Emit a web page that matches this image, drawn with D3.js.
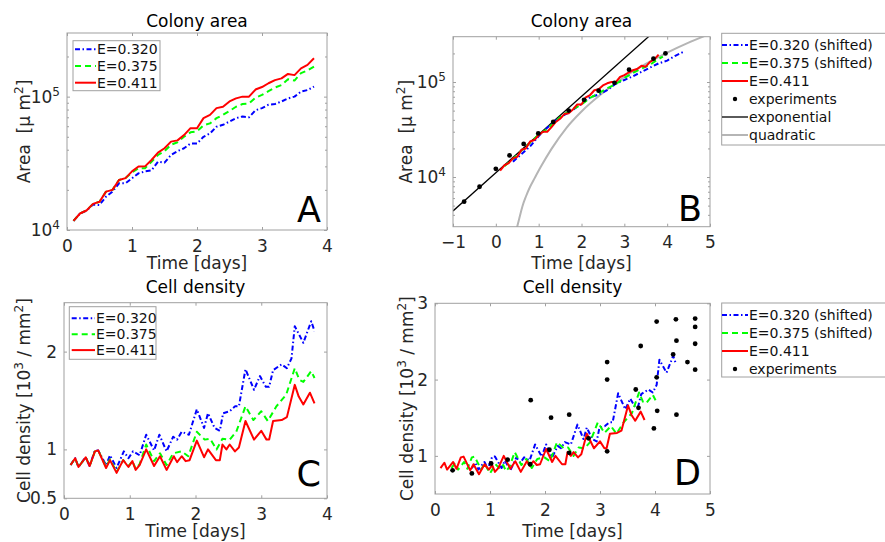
<!DOCTYPE html>
<html>
<head>
<meta charset="utf-8">
<script src="https://cdn.jsdelivr.net/npm/d3@7"></script>
<style>
body { margin: 0; background: #fff; }
svg { font-family: "DejaVu Sans", sans-serif; }
</style>
</head>
<body>
<svg id="fig" width="885" height="542"></svg>
<script>
// ---- colony area, um^2 (panel A, red also in B) ----
const tArea = [0.1,0.2,0.3,0.4,0.5,0.6,0.7,0.8,0.9,1.0,1.1,1.2,1.3,1.4,1.5,1.6,1.7,1.8,1.9,2.0,
               2.1,2.2,2.3,2.4,2.5,2.6,2.7,2.8,2.9,3.0,3.1,3.2,3.3,3.4,3.5,3.6,3.7,3.8];
const areaRed = [1.17e4,1.33e4,1.40e4,1.57e4,1.63e4,1.94e4,2.0e4,2.37e4,2.45e4,2.75e4,2.99e4,3.0e4,3.35e4,3.8e4,4.1e4,4.6e4,4.7e4,5.15e4,5.8e4,5.8e4,
                 6.9e4,7.3e4,8.2e4,8.4e4,9.2e4,9.7e4,1.0e5,1.0e5,1.13e5,1.18e5,1.26e5,1.33e5,1.37e5,1.48e5,1.45e5,1.63e5,1.73e5,1.94e5];
const areaGreen = [1.17e4,1.33e4,1.40e4,1.57e4,1.63e4,1.94e4,2.0e4,2.37e4,2.45e4,2.7e4,2.9e4,2.9e4,3.25e4,3.65e4,3.9e4,4.35e4,4.55e4,5.0e4,5.4e4,5.5e4,
                   6.1e4,6.3e4,6.9e4,7.3e4,7.8e4,8.4e4,8.8e4,8.9e4,9.8e4,1.03e5,1.1e5,1.17e5,1.22e5,1.35e5,1.32e5,1.5e5,1.57e5,1.68e5];
const areaBlue = [1.17e4,1.33e4,1.40e4,1.55e4,1.54e4,1.78e4,1.94e4,2.24e4,2.24e4,2.44e4,2.66e4,2.75e4,2.8e4,3.25e4,3.2e4,3.65e4,3.9e4,4.1e4,4.45e4,4.45e4,
                  5.0e4,5.3e4,5.95e4,6.15e4,6.5e4,6.9e4,7.1e4,7.0e4,7.9e4,8.2e4,8.7e4,8.8e4,9.2e4,9.7e4,1.0e5,1.09e5,1.12e5,1.19e5];

// shifted curves in panel B
const tBlueB = [0.4,0.6,0.8,1.0,1.2,1.4,1.6,1.8,2.0,2.2,2.4,2.6,2.8,3.0,3.2,3.4,3.6,3.8,4.0,4.2,4.4];
const areaBlueB = [1.45e4,1.75e4,2.1e4,2.7e4,3.3e4,3.95e4,4.5e4,5.1e4,5.9e4,6.9e4,7.4e4,8.2e4,9.6e4,1.05e5,1.15e5,1.28e5,1.42e5,1.57e5,1.68e5,1.9e5,2.1e5];
const tGreenB = [0.2,0.4,0.6,0.8,1.0,1.2,1.4,1.6,1.8,2.0,2.2,2.4,2.6,2.8,3.0,3.2,3.4,3.6,3.8,3.9];
const areaGreenB = [1.3e4,1.55e4,1.9e4,2.3e4,2.8e4,3.2e4,3.9e4,4.6e4,5.2e4,5.8e4,6.8e4,7.6e4,8.6e4,9.5e4,1.1e5,1.25e5,1.38e5,1.52e5,1.75e5,1.85e5];

// experiments and fits in panel B
const expAreaT = [-0.74,-0.38,0.0,0.32,0.65,0.99,1.34,1.70,2.06,2.40,2.77,3.11,3.68,3.96];
const expAreaV = [5.5e3,7.9e3,1.22e4,1.69e4,2.23e4,2.88e4,3.8e4,5.0e4,6.5e4,8.1e4,9.8e4,1.35e5,1.76e5,2.0e5];
const expFitT = [-1, 3.6];
const expFitV = [4.4e3, 3.1e5];
const quadT = [0.49,0.55,0.62,0.7,0.8,0.91,1.05,1.3,1.65,2.0,2.5,3.0,3.5,4.0,4.5,5.0];
const quadV = [2.9e3,3.7e3,4.9e3,6.2e3,7.9e3,9.8e3,1.28e4,1.98e4,3.3e4,4.9e4,7.7e4,1.13e5,1.55e5,2.04e5,2.6e5,3.22e5];

// ---- cell density, 10^3 / mm^2 (panel C, shifted in D) ----
const tDensRed = [0.10,0.17,0.22,0.33,0.39,0.47,0.52,0.64,0.70,0.80,0.90,0.98,1.04,1.09,1.15,1.25,1.37,1.46,1.56,1.67,
                  1.72,1.79,1.85,1.91,2.02,2.13,2.19,2.31,2.37,2.41,2.47,2.52,2.60,2.66,2.76,2.89,3.00,3.08,3.12,3.18,
                  3.31,3.39,3.51,3.57,3.64,3.74,3.81];
const densRed = [0.84,0.91,0.82,0.92,0.83,0.98,0.99,0.81,0.89,0.76,0.89,0.82,0.88,0.79,0.84,1.00,0.83,0.93,0.79,0.93,
                 0.87,0.93,0.88,0.89,1.09,0.92,1.00,0.89,0.89,1.05,1.00,1.05,0.98,1.02,1.29,1.10,1.19,1.10,1.10,1.29,
                 1.30,1.33,1.66,1.54,1.46,1.58,1.47];
const tDensGreen = [0.10,0.17,0.22,0.33,0.39,0.47,0.52,0.64,0.70,0.80,0.90,0.98,1.04,1.09,1.15,
                    1.25,1.37,1.46,1.56,1.66,1.79,1.89,2.02,2.14,2.22,2.32,2.41,2.52,2.62,2.76,2.88,3.00,3.10,3.23,3.38,
                    3.51,3.58,3.64,3.76,3.81];
const densGreen = [0.84,0.91,0.82,0.92,0.83,0.98,0.99,0.82,0.90,0.77,0.89,0.83,0.88,0.80,0.85,
                   1.05,0.88,0.96,0.84,0.96,0.98,0.93,1.18,1.10,1.11,1.00,1.11,1.10,1.18,1.44,1.30,1.39,1.29,1.44,1.56,
                   1.83,1.71,1.69,1.80,1.73];
const tDensBlue = [0.10,0.17,0.22,0.33,0.39,0.47,0.52,0.64,0.70,0.80,0.91,0.98,1.05,1.15,1.25,1.37,1.45,1.56,1.66,1.72,
                   1.79,1.90,2.02,2.13,2.19,2.29,2.37,2.42,2.52,2.60,2.66,2.76,2.89,2.98,3.07,3.12,3.18,3.31,3.39,3.46,
                   3.51,3.64,3.76,3.81];
const densBlue = [0.84,0.91,0.82,0.92,0.83,0.99,0.99,0.84,0.94,0.81,0.98,0.91,0.98,0.94,1.15,0.99,1.15,0.98,1.13,1.10,
                  1.18,1.15,1.41,1.22,1.37,1.22,1.19,1.37,1.39,1.44,1.44,1.82,1.61,1.75,1.64,1.64,1.81,1.87,1.83,1.93,
                  2.26,2.09,2.31,2.21];
const shiftBlue = 0.57;   // days, panel D
const shiftGreen = 0.2;

const expDensT = [0.32,0.67,1.02,1.32,1.73,1.74,2.11,2.08,2.44,2.44,2.79,3.13,3.13,3.13,3.65,3.70,3.74,3.98,
                  4.03,4.03,4.04,4.33,4.38,4.39,4.39,4.59,4.73,4.73,4.73,4.73];
const expDensV = [0.81,0.77,0.90,0.95,0.89,1.73,1.50,1.08,1.54,1.04,1.23,2.23,2.00,1.06,1.87,1.63,2.44,1.36,
                  2.03,2.76,1.59,2.33,2.79,2.51,1.54,2.23,2.80,2.69,2.47,2.13];

// ---- ticks ----
const ticksX4 = [0,1,2,3,4];
const ticksX5 = [0,1,2,3,4,5];
const ticksXB = [-1,0,1,2,3,4,5];
const ticksLog = [1e4, 1e5];
const minorA = [2e4,3e4,4e4,5e4,6e4,7e4,8e4,9e4,2e5];
const minorB = [4e3,5e3,6e3,7e3,8e3,9e3,2e4,3e4,4e4,5e4,6e4,7e4,8e4,9e4,2e5];
const ticksC = [0.5,1,2];
const ticksD = [1,2,3];

const svg = d3.select("#fig");
const AXIS = "#a0a0a0", TXT = "#262626";
const BLUE = { color: "#0000ff", dash: "5,2.5,1.5,2.5" };
const GREEN = { color: "#00ff00", dash: "6,4" };
const RED = { color: "#ff0000", dash: null };

function styleAxis(sel) {
    sel.select(".domain").remove();
    sel.attr("font-family", null).attr("font-size", 17);
    sel.selectAll(".tick line").attr("stroke", AXIS);
    sel.selectAll(".tick text").attr("fill", TXT);
}

function logLabels(sel) {
    sel.selectAll(".tick text").each(function(d) {
        const t = d3.select(this);
        t.append("tspan").text("10");
        t.append("tspan").attr("dy", -7).attr("font-size", 12).text(Math.round(Math.log10(d)));
    });
}

function makePanel(p) {
    const g = svg.append("g");
    const x = d3.scaleLinear().domain(p.xDomain).range([p.left, p.right]);
    const y = (p.log ? d3.scaleLog() : d3.scaleLinear()).domain(p.yDomain).range([p.bottom, p.top]);

    svg.append("clipPath").attr("id", "clip" + p.id).append("rect")
        .attr("x", p.left).attr("y", p.top)
        .attr("width", p.right - p.left).attr("height", p.bottom - p.top);

    const fmtY = p.log ? () => "" : d3.format("");

    g.append("g").attr("transform", `translate(0,${p.bottom})`)
        .call(d3.axisBottom(x).tickValues(p.xTicks).tickSize(-3).tickPadding(9.5).tickFormat(d3.format("")))
        .call(styleAxis);
    g.append("g").attr("transform", `translate(0,${p.top})`)
        .call(d3.axisTop(x).tickValues(p.xTicks).tickSize(-3).tickFormat(""))
        .call(styleAxis);
    const yl = g.append("g").attr("transform", `translate(${p.left},0)`)
        .call(d3.axisLeft(y).tickValues(p.yTicks).tickSize(-3).tickPadding(7).tickFormat(fmtY))
        .call(styleAxis);
    if (p.log) yl.call(logLabels);
    g.append("g").attr("transform", `translate(${p.right},0)`)
        .call(d3.axisRight(y).tickValues(p.yTicks).tickSize(-3).tickFormat(""))
        .call(styleAxis);
    if (p.minor) {
        g.append("g").attr("transform", `translate(${p.left},0)`)
            .call(d3.axisLeft(y).tickValues(p.minor).tickSize(-2).tickFormat("")).call(styleAxis);
        g.append("g").attr("transform", `translate(${p.right},0)`)
            .call(d3.axisRight(y).tickValues(p.minor).tickSize(-2).tickFormat("")).call(styleAxis);
    }

    const plot = g.append("g").attr("clip-path", `url(#clip${p.id})`);

    // title, labels, big letter
    const cx = (p.left + p.right) / 2, cy = (p.top + p.bottom) / 2;
    g.append("text").attr("x", cx).attr("y", p.titleY).attr("text-anchor", "middle")
        .attr("font-size", 17).attr("fill", "#000").text(p.title);
    g.append("text").attr("x", cx).attr("y", p.xLabelY).attr("text-anchor", "middle")
        .attr("font-size", 17).attr("fill", TXT).text("Time [days]");
    const yt = g.append("text").attr("transform", `translate(${p.yLabelX},${cy}) rotate(-90)`)
        .attr("text-anchor", "middle").attr("font-size", 17).attr("fill", TXT)
        .style("white-space", "pre");
    p.yLabel.forEach(function(part) {
        if (part.sup) yt.append("tspan").attr("dy", -7).attr("font-size", 12).text(part.sup);
        else yt.append("tspan").attr("dy", part.after ? 7 : 0).text(part.text);
    });
    g.append("text").attr("x", p.letterX).attr("y", p.letterY).attr("text-anchor", "end")
        .attr("font-size", 35).attr("fill", "#000").text(p.id);

    return { g: g, plot: plot, x: x, y: y, frame: function() {
        g.append("rect").attr("x", p.left).attr("y", p.top)
            .attr("width", p.right - p.left).attr("height", p.bottom - p.top)
            .attr("fill", "none").attr("stroke", AXIS).attr("stroke-width", 1);
    } };
}

function drawLine(P, ts, vs, st, width, shift, curve) {
    const line = d3.line().x(d => P.x(d[0] + (shift || 0))).y(d => P.y(d[1]))
        .curve(curve || d3.curveLinear);
    P.plot.append("path").datum(d3.zip(ts, vs))
        .attr("d", line).attr("fill", "none")
        .attr("stroke", st.color).attr("stroke-width", width)
        .attr("stroke-dasharray", st.dash).attr("stroke-linejoin", "round");
}

function drawDots(P, ts, vs) {
    P.plot.selectAll(null).data(d3.zip(ts, vs)).enter().append("circle")
        .attr("cx", d => P.x(d[0])).attr("cy", d => P.y(d[1])).attr("r", 2.4).attr("fill", "#000");
}

function legend(P, box, rows) {
    const lg = P.g.append("g");
    lg.append("rect").attr("x", box.x).attr("y", box.y).attr("width", box.w).attr("height", box.h)
        .attr("fill", "#fff").attr("stroke", AXIS).attr("stroke-width", 1);
    rows.forEach(function(r, i) {
        const cy = box.row0 + i * box.step;
        if (r.dot) {
            lg.append("circle").attr("cx", (box.lx0 + box.lx1) / 2).attr("cy", cy).attr("r", 2.2).attr("fill", "#000");
        } else {
            lg.append("line").attr("x1", box.lx0).attr("x2", box.lx1).attr("y1", cy).attr("y2", cy)
                .attr("stroke", r.st.color).attr("stroke-width", r.w || 2).attr("stroke-dasharray", r.st.dash);
        }
        lg.append("text").attr("x", box.tx).attr("y", cy + 5).attr("font-size", 14).attr("fill", "#111").text(r.label);
    });
}

const areaLabel = [{ text: "Area  [\u03bc m" }, { sup: "2" }, { text: "]", after: true }];
const densLabel = [{ text: "Cell density [10" }, { sup: "3" }, { text: " / mm", after: true }, { sup: "2" }, { text: "]", after: true }];

// Panel A
const A = makePanel({ id: "A", left: 67, right: 327, top: 33, bottom: 230,
    xDomain: [0, 4], yDomain: [1e4, 3e5], log: true, xTicks: ticksX4, yTicks: ticksLog, minor: minorA,
    title: "Colony area", titleY: 26.5, xLabelY: 269, yLabelX: 30, yLabel: areaLabel,
    letterX: 321, letterY: 221.5 });
drawLine(A, tArea, areaBlue, BLUE, 2);
drawLine(A, tArea, areaGreen, GREEN, 2);
drawLine(A, tArea, areaRed, RED, 2);
A.frame();
legend(A, { x: 73, y: 40.7, w: 87, h: 50, row0: 49.3, step: 16.7, lx0: 75, lx1: 96, tx: 97 },
    [{ st: BLUE, label: "E=0.320" }, { st: GREEN, label: "E=0.375" }, { st: RED, label: "E=0.411" }]);

// Panel B
const B = makePanel({ id: "B", left: 453, right: 710, top: 36.7, bottom: 226.7,
    xDomain: [-1, 5], yDomain: [3e3, 3e5], log: true, xTicks: ticksXB, yTicks: ticksLog, minor: minorB,
    title: "Colony area", titleY: 26.5, xLabelY: 269, yLabelX: 412, yLabel: areaLabel,
    letterX: 702, letterY: 220.5 });
drawLine(B, quadT, quadV, { color: "#b5b5b5", dash: null }, 2, 0, d3.curveMonotoneX);
drawLine(B, expFitT, expFitV, { color: "#000", dash: null }, 1.3);
drawLine(B, tBlueB, areaBlueB, BLUE, 2);
drawLine(B, tGreenB, areaGreenB, GREEN, 2);
drawLine(B, tArea, areaRed, RED, 2);
drawDots(B, expAreaT, expAreaV);
B.frame();
legend(B, { x: 721.7, y: 33.3, w: 180, h: 111.7, row0: 45, step: 18, lx0: 722, lx1: 748, tx: 749 },
    [{ st: BLUE, label: "E=0.320 (shifted)" }, { st: GREEN, label: "E=0.375 (shifted)" },
     { st: RED, label: "E=0.411" }, { dot: true, label: "experiments" },
     { st: { color: "#000", dash: null }, w: 1.3, label: "exponential" },
     { st: { color: "#b5b5b5", dash: null }, label: "quadratic" }]);

// Panel C
const C = makePanel({ id: "C", left: 64, right: 327, top: 302.7, bottom: 498.3,
    xDomain: [0, 4], yDomain: [0.5, 2.5], log: false, xTicks: ticksX4, yTicks: ticksC,
    title: "Cell density", titleY: 292.5, xLabelY: 537, yLabelX: 30, yLabel: densLabel,
    letterX: 321, letterY: 486 });
drawLine(C, tDensBlue, densBlue, BLUE, 2);
drawLine(C, tDensGreen, densGreen, GREEN, 2);
drawLine(C, tDensRed, densRed, RED, 2);
C.frame();
legend(C, { x: 69.3, y: 306.7, w: 86.7, h: 52.6, row0: 318.3, step: 15.9, lx0: 71.7, lx1: 95, tx: 96 },
    [{ st: BLUE, label: "E=0.320" }, { st: GREEN, label: "E=0.375" }, { st: RED, label: "E=0.411" }]);

// Panel D
const D = makePanel({ id: "D", left: 435, right: 710, top: 303.3, bottom: 494,
    xDomain: [0, 5], yDomain: [0.5, 3], log: false, xTicks: ticksX5, yTicks: ticksD,
    title: "Cell density", titleY: 292.5, xLabelY: 537, yLabelX: 413, yLabel: densLabel,
    letterX: 701, letterY: 485 });
drawLine(D, tDensBlue, densBlue, BLUE, 2, shiftBlue);
drawLine(D, tDensGreen, densGreen, GREEN, 2, shiftGreen);
drawLine(D, tDensRed, densRed, RED, 2);
drawDots(D, expDensT, expDensV);
D.frame();
legend(D, { x: 721.7, y: 303, w: 180, h: 74, row0: 315, step: 18, lx0: 722, lx1: 748, tx: 749 },
    [{ st: BLUE, label: "E=0.320 (shifted)" }, { st: GREEN, label: "E=0.375 (shifted)" },
     { st: RED, label: "E=0.411" }, { dot: true, label: "experiments" }]);
</script>
</body>
</html>
